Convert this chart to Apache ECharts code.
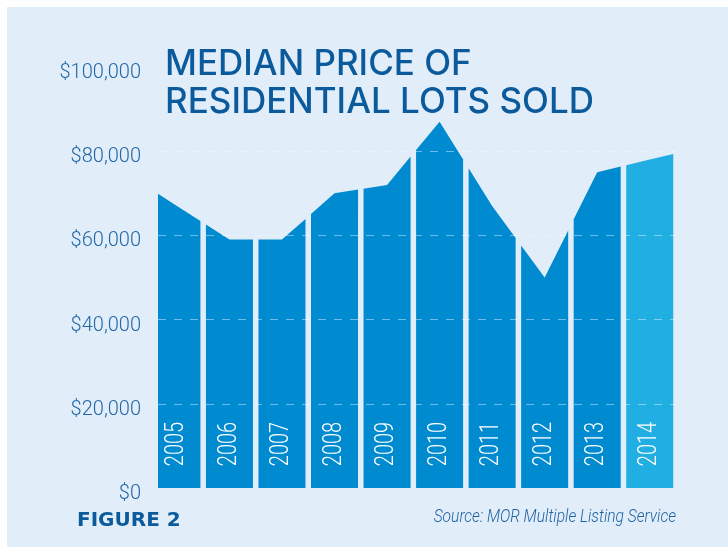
<!DOCTYPE html>
<html>
<head>
<meta charset="utf-8">
<script src="https://cdn.jsdelivr.net/npm/echarts@6/dist/echarts.min.js"></script>
<style>
  html, body { margin: 0; padding: 0; background: #fff; }
  #chart { width: 728px; height: 547px; }
</style>
</head>
<body>
<div id="chart"></div>
<script>
// data
var years = ['2005', '2006', '2007', '2008', '2009', '2010', '2011', '2012', '2013', '2014'];
var prices = [67000, 59000, 59000, 70000, 72000, 87000, 67000, 50000, 75000, 78000];
var yTicks = [0, 20000, 40000, 60000, 80000, 100000];

var bandColor = '#008BD1';
var lastColor = '#21AEE2';
var gap = 5.5;

function lerpY(a, b, x) {
    if (b[0] === a[0]) return a[1];
    return a[1] + (b[1] - a[1]) * (x - a[0]) / (b[0] - a[0]);
}

function renderBand(params, api) {
    var i = params.dataIndex;
    var n = prices.length;
    var cs = params.coordSys;
    var c = api.coord([i, prices[i]]);
    var half = api.size([1, 0])[0] / 2;
    var base = api.coord([i, 0])[1];

    var xl = Math.max(c[0] - half + gap / 2, cs.x);
    var xr = Math.min(c[0] + half - gap / 2, cs.x + cs.width);

    var p = i > 0 ? api.coord([i - 1, prices[i - 1]]) : api.coord([i + 1, prices[i + 1]]);
    var q = i < n - 1 ? api.coord([i + 1, prices[i + 1]]) : api.coord([i - 1, prices[i - 1]]);
    var yl = lerpY(p, c, xl);
    var yr = lerpY(c, q, xr);

    return {
        type: 'group',
        children: [{
            type: 'polygon',
            shape: { points: [[xl, yl], [c[0], c[1]], [xr, yr], [xr, base], [xl, base]] },
            style: { fill: i === n - 1 ? lastColor : bandColor }
        }, {
            type: 'text',
            x: c[0],
            y: base - 44,
            rotation: Math.PI / 2,
            scaleX: 0.8,
            style: {
                text: years[i],
                fill: '#ffffff',
                font: '300 25px Roboto, sans-serif',
                align: 'center',
                verticalAlign: 'middle'
            }
        }]
    };
}

var myChart = echarts.init(document.getElementById('chart'));
var option = {
    backgroundColor: '#ffffff',
    animation: false,
    graphic: [{
        type: 'rect',
        z: -10,
        shape: { x: 7, y: 7, width: 721, height: 540 },
        style: { fill: '#E1EEF9' }
    }, {
        type: 'text',
        x: 676,
        y: 517,
        scaleX: 0.82,
        style: {
            text: 'Source: MOR Multiple Listing Service',
            fill: '#1E62A4',
            font: 'italic 300 19px Roboto, sans-serif',
            align: 'right',
            verticalAlign: 'middle'
        }
    }],
    title: [{
        text: 'MEDIAN PRICE OF\nRESIDENTIAL LOTS SOLD',
        left: 160,
        top: 40,
        textStyle: {
            color: '#0B5A9C',
            fontFamily: 'Inter',
            fontWeight: 500,
            fontSize: 35,
            lineHeight: 38
        }
    }, {
        text: 'FIGURE 2',
        left: 72,
        top: 506,
        textStyle: {
            color: '#0B5A9C',
            fontFamily: '"DejaVu Sans"',
            fontWeight: 'bold',
            fontSize: 20
        }
    }],
    grid: {
        left: 158,
        right: 52,
        top: 67,
        bottom: 59
    },
    xAxis: {
        type: 'value',
        min: -0.36,
        max: 9.5,
        show: false
    },
    yAxis: {
        type: 'value',
        min: yTicks[0],
        max: yTicks[yTicks.length - 1],
        interval: 20000,
        axisLine: { show: false },
        axisTick: { show: false },
        splitLine: { show: false },
        axisLabel: {
            margin: 17,
            color: '#2366A8',
            fontFamily: 'Roboto',
            fontWeight: 300,
            fontSize: 20,
            verticalAlign: 'top',
            lineHeight: 12,
            formatter: function (v) {
                return '$' + v.toLocaleString('en-US');
            }
        }
    },
    series: [{
        type: 'custom',
        renderItem: renderBand,
        data: prices.map(function (v, i) { return [i, v]; }),
        encode: { x: 0, y: 1 },
        z: 2
    }, {
        type: 'line',
        data: [],
        z: 5,
        markLine: {
            silent: true,
            symbol: 'none',
            label: { show: false },
            lineStyle: {
                color: 'rgba(255,255,255,0.42)',
                type: [8, 8],
                width: 1
            },
            data: yTicks.slice(1, 5).map(function (v) { return { yAxis: v }; })
        }
    }]
};
myChart.setOption(option);
</script>
</body>
</html>
